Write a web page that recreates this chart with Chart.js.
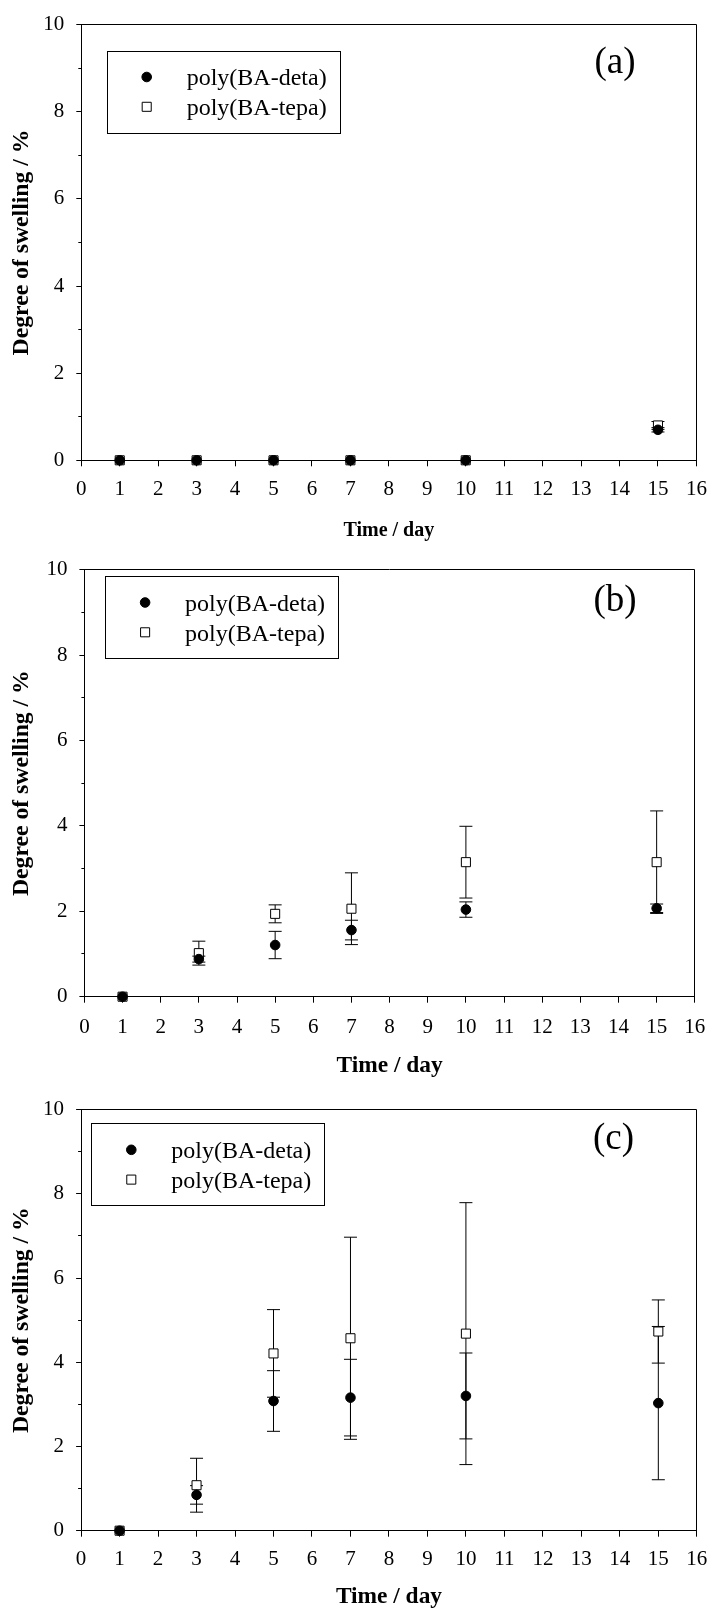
<!DOCTYPE html>
<html>
<head>
<meta charset="utf-8">
<title>Degree of swelling</title>
<script src="https://cdn.jsdelivr.net/npm/chart.js@4.4.1/dist/chart.umd.min.js"></script>
<style>
  html, body { margin: 0; padding: 0; background: #fff; }
  body { width: 717px; height: 1614px; position: relative; overflow: hidden; }
  canvas { position: absolute; left: 0; }
</style>
</head>
<body>
<canvas id="panelA"></canvas>
<canvas id="panelB"></canvas>
<canvas id="panelC"></canvas>
<script>
// ---- data ----
const days = [1, 3, 5, 7, 10, 15];
const xRange = [0, 16];
const yRange = [0, 10];
const seriesNames = ['poly(BA-deta)', 'poly(BA-tepa)'];
const panelTags = ['(a)', '(b)', '(c)'];
const xAxisTitle = 'Time / day';
const yAxisTitle = 'Degree of swelling / %';

// panel (a)
const detaA    = [0, 0, 0, 0, 0, 0.70];
const detaAErr = [0, 0, 0, 0, 0, 0.05];
const tepaA    = [0, 0, 0, 0, 0, 0.80];
const tepaAErr = [0, 0, 0, 0, 0, 0.09];

// panel (b)
const detaB    = [0, 0.88, 1.21, 1.56, 2.04, 2.07];
const detaBErr = [0, 0.07, 0.32, 0.23, 0.18, 0.10];
const tepaB    = [0, 1.02, 1.94, 2.06, 3.15, 3.15];
const tepaBErr = [0, 0.28, 0.21, 0.84, 0.84, 1.20];

// panel (c)
const detaC    = [0, 0.85, 3.08, 3.16, 3.20, 3.03];
const detaCErr = [0, 0.22, 0.72, 0.91, 1.02, 1.82];
const tepaC    = [0, 1.08, 4.21, 4.57, 4.68, 4.73];
const tepaCErr = [0, 0.64, 1.04, 2.40, 3.11, 0.75];

// ---- page layout (pixels, per canvas) ----
const PAGE_W = 717;
const SERIF = '"Liberation Serif", "Times New Roman", Times, serif';
const TICK_SIZE = 21;
const panels = [
  { id: 'panelA', top: 0, height: 545, deta: detaA, detaErr: detaAErr, tepa: tepaA, tepaErr: tepaAErr,
    area: { left: 81.3, right: 702.5, top: 22.6, bottom: 460.3 },
    tickPad: 10.1, xTitleSize: 20, xTitlePad: 2.4,
    legendBox: { x: 107.3, y: 51, w: 233, h: 81.5 }, tagPos: { x: 615, y: 63 } },
  { id: 'panelB', top: 545, height: 540, deta: detaB, detaErr: detaBErr, tepa: tepaB, tepaErr: tepaBErr,
    area: { left: 84.4, right: 704.5, top: 17.7, bottom: 451.7 },
    tickPad: 11.7, xTitleSize: 23.4, xTitlePad: 4.9,
    legendBox: { x: 105.7, y: 31.5, w: 233, h: 81.5 }, tagPos: { x: 615, y: 56 } },
  { id: 'panelC', top: 1085, height: 529, deta: detaC, detaErr: detaCErr, tepa: tepaC, tepaErr: tepaCErr,
    area: { left: 81.1, right: 699.3, top: 13.5, bottom: 445.7 },
    tickPad: 9.7, xTitleSize: 23.4, xTitlePad: 3.2,
    legendBox: { x: 91.9, y: 38.8, w: 233, h: 81.5 }, tagPos: { x: 613.5, y: 54 } }
];

// vertical error bar segments (low, high, gap) for each day
function errorSegments(values, errs) {
  const pts = [];
  days.forEach((d, i) => {
    if (errs[i] > 0) {
      pts.push({ x: d, y: values[i] - errs[i] });
      pts.push({ x: d, y: values[i] + errs[i] });
      pts.push({ x: d, y: null });
    }
  });
  return pts;
}

function crisp(p) { return Math.round(p - 0.5) + 0.5; }

// frame on top/right, boxed legend and panel letter
const panelDecor = {
  id: 'panelDecor',
  afterDraw(chart, args, opts) {
    const { ctx, chartArea: a } = chart;
    ctx.save();
    ctx.strokeStyle = '#000';
    ctx.lineWidth = 1;
    ctx.beginPath();
    ctx.moveTo(crisp(a.left), crisp(a.top));
    ctx.lineTo(crisp(a.right), crisp(a.top));
    ctx.lineTo(crisp(a.right), crisp(a.bottom));
    ctx.stroke();

    // legend
    const b = opts.legendBox;
    ctx.strokeRect(crisp(b.x), crisp(b.y), Math.round(b.w), Math.round(b.h));
    const rows = [26, 55.8];
    opts.entries.forEach((label, k) => {
      const ds = chart.data.datasets.find(d => d.label === label);
      const my = b.y + rows[k];
      const mx = b.x + 39.4;
      ctx.lineWidth = ds.borderWidth;
      ctx.strokeStyle = ds.borderColor;
      ctx.fillStyle = ds.backgroundColor;
      ctx.beginPath();
      if (ds.pointStyle === 'circle') {
        ctx.arc(mx, my, ds.pointRadius, 0, Math.PI * 2);
      } else {
        const s = Math.SQRT1_2 * ds.pointRadius;
        ctx.rect(mx - s, my - s, 2 * s, 2 * s);
      }
      ctx.fill();
      ctx.stroke();
      ctx.fillStyle = '#000';
      ctx.font = '24px ' + SERIF;
      ctx.textAlign = 'left';
      ctx.textBaseline = 'middle';
      ctx.fillText(label, b.x + 79.4, my + 2);
    });

    // panel letter
    ctx.font = '37px ' + SERIF;
    ctx.textAlign = 'center';
    ctx.textBaseline = 'middle';
    ctx.fillStyle = '#000';
    ctx.fillText(opts.tag, opts.tagPos.x, opts.tagPos.y);
    ctx.restore();
  }
};

panels.forEach((P, idx) => {
  const cv = document.getElementById(P.id);
  cv.width = PAGE_W;
  cv.height = P.height;
  cv.style.top = P.top + 'px';
  cv.style.width = PAGE_W + 'px';
  cv.style.height = P.height + 'px';

  const errStyle = {
    showLine: true, spanGaps: false, fill: false,
    borderColor: '#000', borderWidth: 1,
    pointStyle: 'line', pointRadius: 6.5, pointBorderWidth: 1,
    pointBorderColor: '#000', pointHoverRadius: 6.5, clip: false
  };

  new Chart(cv, {
    type: 'scatter',
    data: {
      datasets: [
        Object.assign({ label: seriesNames[1] + ' sd', data: errorSegments(P.tepa, P.tepaErr), order: 3 }, errStyle),
        Object.assign({ label: seriesNames[0] + ' sd', data: errorSegments(P.deta, P.detaErr), order: 2 }, errStyle),
        {
          label: seriesNames[1],
          data: days.map((d, i) => ({ x: d, y: P.tepa[i] })),
          pointStyle: 'rect', pointRadius: 6.4, pointHoverRadius: 6.4,
          backgroundColor: '#fff', borderColor: '#000', borderWidth: 1,
          order: 1, clip: false
        },
        {
          label: seriesNames[0],
          data: days.map((d, i) => ({ x: d, y: P.deta[i] })),
          pointStyle: 'circle', pointRadius: 4.8, pointHoverRadius: 4.8,
          backgroundColor: '#000', borderColor: '#000', borderWidth: 1,
          order: 0, clip: false
        }
      ]
    },
    options: {
      responsive: false,
      animation: false,
      devicePixelRatio: 1,
      events: [],
      layout: {
        padding: { left: 0, top: P.area.top, right: PAGE_W - P.area.right, bottom: 0 }
      },
      plugins: {
        legend: { display: false },
        tooltip: { enabled: false },
        panelDecor: {
          legendBox: P.legendBox,
          entries: seriesNames,
          tag: panelTags[idx],
          tagPos: P.tagPos
        }
      },
      scales: {
        x: {
          type: 'linear',
          min: xRange[0], max: xRange[1],
          ticks: {
            stepSize: 1, autoSkip: false, maxRotation: 0,
            color: '#000', padding: P.tickPad,
            font: { family: SERIF, size: TICK_SIZE, lineHeight: 1.2 }
          },
          grid: {
            drawOnChartArea: false, drawTicks: true, tickLength: 6,
            tickColor: '#000', tickWidth: 1
          },
          border: { display: true, color: '#000', width: 1 },
          title: {
            display: true, text: xAxisTitle, color: '#000',
            font: { family: SERIF, size: P.xTitleSize, weight: 'bold', lineHeight: 1.2 },
            padding: { top: 0, bottom: P.xTitlePad }
          },
          afterFit(scale) { scale.height = P.height - P.area.bottom; }
        },
        y: {
          type: 'linear',
          min: yRange[0], max: yRange[1],
          ticks: {
            stepSize: 1, autoSkip: false,
            color: '#000', padding: 12,
            font: { family: SERIF, size: TICK_SIZE, lineHeight: 1.2 },
            callback: (v) => (v % 2 === 0 ? String(v) : '')
          },
          grid: {
            drawOnChartArea: false, drawTicks: true, tickLength: 5,
            tickColor: '#000', tickWidth: 1,
            // odd values get a shorter (minor) tick next to the axis
            tickBorderDash: (c) => (c.tick && c.tick.value % 2 !== 0 ? [3, 100] : []),
            tickBorderDashOffset: (c) => (c.tick && c.tick.value % 2 !== 0 ? 101 : 0)
          },
          border: { display: true, color: '#000', width: 1 },
          title: {
            display: true, text: yAxisTitle, color: '#000',
            font: { family: SERIF, size: 23.7, weight: 'bold', lineHeight: 1.2 },
            padding: { top: 8, bottom: 0 }
          },
          afterFit(scale) { scale.width = P.area.left; }
        }
      }
    },
    plugins: [panelDecor]
  });
});
</script>
</body>
</html>
